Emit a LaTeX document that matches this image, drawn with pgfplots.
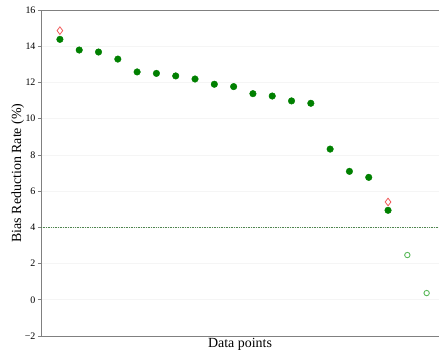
\documentclass[border=0pt]{standalone}
\usepackage{fontspec}
\setmainfont{Liberation Serif}
\usepackage{pgfplots}
\pgfplotsset{compat=1.18}
\usetikzlibrary{calc}
\definecolor{mplgreen}{RGB}{0,128,0}
\definecolor{lightgreen}{RGB}{90,185,90}
\definecolor{lightred}{RGB}{240,90,90}
\definecolor{spine}{RGB}{128,128,128}
\definecolor{dotline}{RGB}{80,135,80}
\begin{document}
\begin{tikzpicture}
\begin{axis}[
  scale only axis,
  width=398bp, height=326bp,
  xmin=-0.98, xmax=19.64,
  ymin=-2, ymax=16,
  ytick={-2,0,2,4,6,8,10,12,14,16},
  yticklabels={−2,0,2,4,6,8,10,12,14,16},
  xtick=\empty,
  axis line style={spine, line width=0.8pt},
  separate axis lines,
  axis x line*=bottom,
  axis y line*=left,
  ymajorgrids,
  major grid style={gray!8, line width=0.6pt},
  tick align=outside,
  major tick length=3bp,
  tick style={spine, line width=0.6pt},
  yticklabel style={font=\fontsize{10}{11}\selectfont, xshift=1bp},
  /pgf/number format/assume math mode=true,
  ylabel={Bias Reduction Rate (\%)},
  xlabel={Data points},
  label style={font=\fontsize{14}{16}\selectfont},
  ylabel style={yshift=-6bp},
  xlabel style={at={(axis description cs:0.5,0)}, anchor=base, yshift=-11bp},
  clip=false,
]
\addplot[dotline, densely dotted, line width=0.7pt, forget plot] coordinates {(-0.98,4) (19.64,4)};
\addplot[draw=none, mark=*, mark size=3.3bp, mark options={fill=mplgreen, draw=mplgreen}] coordinates {
(0,14.38) (1,13.79) (2,13.68) (3,13.29) (4,12.58) (5,12.50) (6,12.36) (7,12.19) (8,11.90) (9,11.77)
(10,11.38) (11,11.25) (12,10.98) (13,10.85) (14,8.32) (15,7.09) (16,6.76) (17,4.94)
};
\addplot[draw=none, mark=o, mark size=2.7bp, mark options={draw=lightgreen, line width=0.9pt}] coordinates {
(18,2.47) (19,0.37)
};
\addplot[draw=none, mark=diamond, mark size=3.8bp, mark options={draw=lightred, line width=0.8pt}] coordinates {
(0,14.86) (17,5.40)
};
\draw[spine, line width=0.8pt] (axis cs:-0.98,16) -- (axis cs:19.64,16);
\end{axis}
\pgfresetboundingbox
\path[use as bounding box] ($(current axis.south west)+(-41bp,-15bp)$) rectangle ($(current axis.north east)+(0bp,10bp)$);
\end{tikzpicture}
\end{document}
